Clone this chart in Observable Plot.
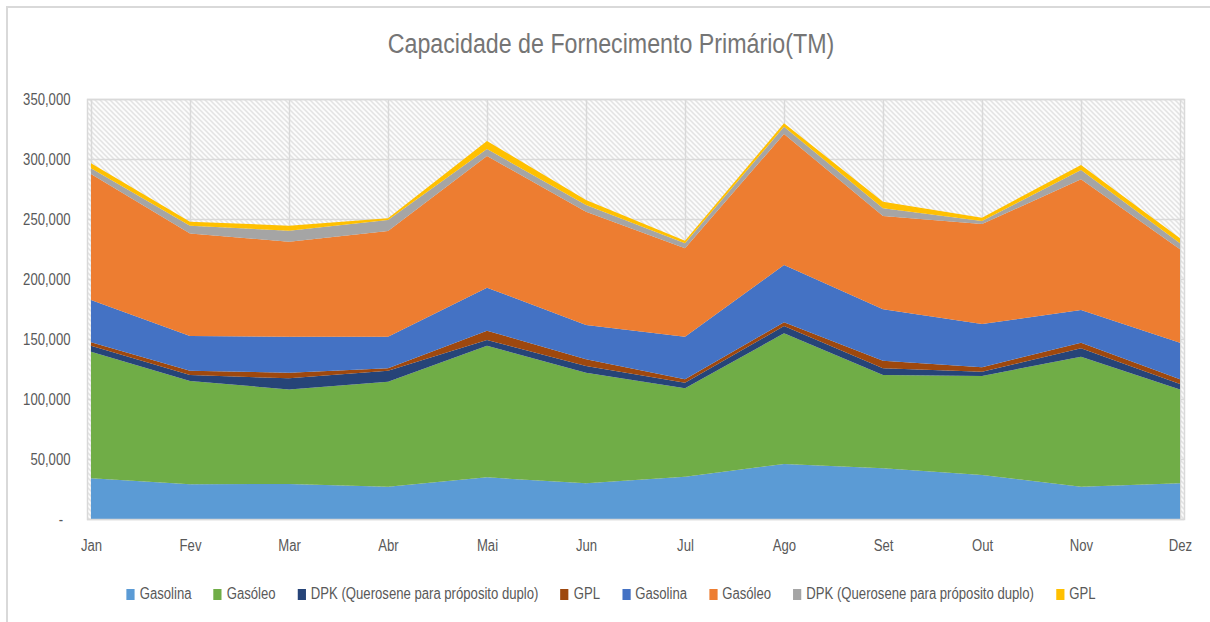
<!DOCTYPE html>
<html>
<head>
<meta charset="utf-8">
<script src="https://cdn.jsdelivr.net/npm/d3@7"></script>
<script src="https://cdn.jsdelivr.net/npm/@observablehq/plot@0.6"></script>
<style>
  html, body { margin: 0; padding: 0; background: #fff; width: 1210px; height: 622px; overflow: hidden; }
  body { position: relative; font-family: "Liberation Sans", Arial, sans-serif; }
  #frame { position: absolute; left: 6px; top: 6px; width: 1300px; height: 700px; border-top: 2px solid #d9d9d9; border-left: 2px solid #d9d9d9; }
  #title { position: absolute; left: 0; top: 31px; width: 1222px; text-align: center; font-size: 27px; line-height: 27px; color: #757575; transform: scaleX(0.86); transform-origin: 611px 0; white-space: nowrap; }
  #chart { position: absolute; left: 0; top: 80px; }
  #legend { position: absolute; left: 0; top: 586px; width: 1222px; display: flex; justify-content: center; gap: 27px; font-size: 16px; line-height: 16px; color: #595959; transform: scaleX(0.82); transform-origin: 611px 0; }
  .item { display: flex; align-items: center; gap: 6px; white-space: nowrap; }
  .sw { width: 10px; height: 11px; display: inline-block; }
</style>
</head>
<body>
<div id="frame"></div>
<div id="title">Capacidade de Fornecimento Primário(TM)</div>
<div id="chart"></div>
<div id="legend"></div>
<script>
const months = ["Jan","Fev","Mar","Abr","Mai","Jun","Jul","Ago","Set","Out","Nov","Dez"];
const seriesNames = ["Gasolina","Gasóleo","DPK (Querosene para próposito duplo)","GPL","Gasolina","Gasóleo","DPK (Querosene para próposito duplo)","GPL"];
const seriesColors = ["#5B9BD5","#70AD47","#264478","#9E480E","#4472C4","#ED7D31","#A5A5A5","#FFC000"];

const gasolina1 = [34000, 28900, 29200, 26900, 34700, 29700, 35300, 45800, 42200, 36700, 26900, 29700];
const gasoleo1  = [105400, 86100, 78800, 87500, 109700, 92200, 73600, 108900, 77800, 82500, 108400, 78300];
const dpk1      = [5000, 5000, 9200, 9200, 4800, 5600, 4700, 6100, 5600, 3600, 6900, 4500];
const gpl1      = [2800, 3600, 4700, 2000, 7700, 5600, 2800, 3100, 6300, 3600, 4700, 3900];
const gasolina2 = [35300, 28900, 30000, 26300, 35900, 28600, 35500, 47800, 42800, 36100, 27300, 30500];
const gasoleo2  = [105000, 85500, 79200, 88100, 109700, 94400, 73700, 109100, 77800, 83300, 108900, 77800];
const dpk2      = [4700, 6400, 9200, 9200, 5800, 5600, 4100, 6100, 6400, 2500, 7700, 5000];
const gpl2      = [4200, 3400, 4100, 1400, 6700, 4100, 2200, 2800, 5500, 2800, 4200, 4200];

const yTicks = [0, 50000, 100000, 150000, 200000, 250000, 300000, 350000];

const seriesValues = [gasolina1, gasoleo1, dpk1, gpl1, gasolina2, gasoleo2, dpk2, gpl2];
const ids = seriesNames.map((n, i) => `s${i}`);
const data = [];
seriesValues.forEach((vals, i) => {
  vals.forEach((v, j) => data.push({series: ids[i], month: months[j], value: v}));
});

const fmt = d => d === 0 ? "-\u00a0\u00a0" : d3.format(",")(d);
const fontFamily = '"Liberation Sans", Arial, sans-serif';

const svg = Plot.plot({
  width: 1210,
  height: 480,
  marginLeft: 87,
  marginRight: 26,
  marginTop: 19,
  marginBottom: 41,
  style: {fontFamily, fontSize: "16px", color: "#595959", background: "transparent"},
  x: {type: "point", domain: months, padding: 0, label: null},
  y: {domain: [0, 350000], label: null},
  color: {domain: ids, range: seriesColors},
  marks: [
    Plot.frame({fill: "url(#hatch)", stroke: null}),
    Plot.gridY(yTicks, {stroke: "#d9d9d9", strokeOpacity: 1, strokeWidth: 1.5}),
    Plot.gridX(months, {stroke: "#d9d9d9", strokeOpacity: 1, strokeWidth: 1.5}),
    Plot.areaY(data, {x: "month", y: "value", z: "series", fill: "series", fillOpacity: 1}),
    Plot.frame({stroke: "#d9d9d9", strokeWidth: 1.5}),
    Plot.axisY(yTicks, {tickSize: 0, tickPadding: 17, tickFormat: fmt, fontSize: 16, fill: "#595959"}),
    Plot.axisX(months, {tickSize: 0, tickPadding: 20, fontSize: 16, fill: "#595959"})
  ]
});

const defs = d3.select(svg).insert("defs", ":first-child");
const pat = defs.append("pattern")
  .attr("id", "hatch")
  .attr("patternUnits", "userSpaceOnUse")
  .attr("width", 5).attr("height", 5);
pat.append("rect").attr("width", 5).attr("height", 5).attr("fill", "#ffffff");
pat.append("path")
  .attr("d", "M0,0L5,5M-1,4L1,6M4,-1L6,1")
  .attr("stroke", "#d4d4d4").attr("stroke-width", 1.2);

// narrow the axis text (the reference uses a condensed face)
d3.select(svg).selectAll('g[aria-label$="tick label"] text').each(function() {
  const t = this.getAttribute("transform") || "";
  this.setAttribute("transform", `${t} scale(0.82,1)`);
});

document.getElementById("chart").appendChild(svg);

const legend = d3.select("#legend");
seriesNames.forEach((name, i) => {
  const it = legend.append("div").attr("class", "item");
  it.append("span").attr("class", "sw").style("background", seriesColors[i]);
  it.append("span").text(name);
});
</script>
</body>
</html>
